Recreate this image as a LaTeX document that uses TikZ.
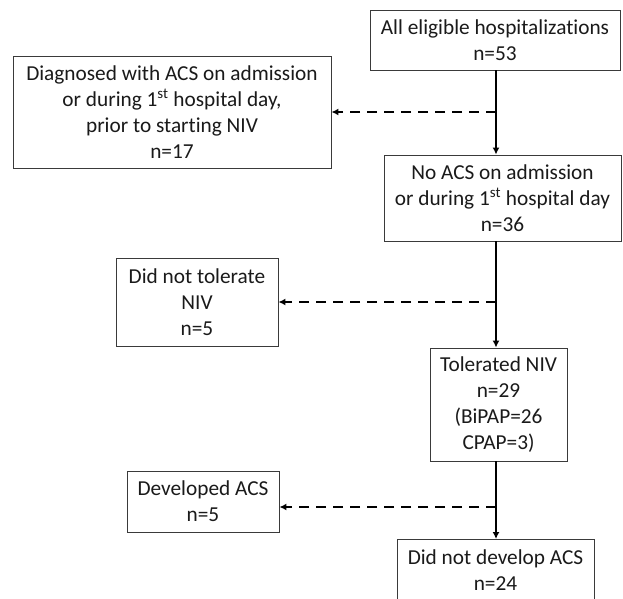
\documentclass[tikz,border=0pt]{standalone}
\usepackage{fontspec}
\setmainfont{Carlito}[RawFeature={-liga,-dlig,-clig}]
\usetikzlibrary{arrows.meta,calc}
\definecolor{boxline}{HTML}{3A3A3A}
\definecolor{txt}{HTML}{1A1A1A}
\tikzset{
  box/.style={draw=boxline, line width=0.9pt, fill=white, align=center, text=txt,
    inner sep=0pt, font=\fontsize{21.3}{26}\selectfont},
  flow/.style={line width=2pt, black, -{Latex[length=7pt,width=7pt]}},
  side/.style={line width=2pt, black, dash pattern=on 10pt off 7pt, -{Latex[length=7pt,width=7pt]}}
}
\begin{document}
\begin{tikzpicture}[x=1pt,y=1pt]
\useasboundingbox (0,0) rectangle (623,-598);
\clip (0,0) rectangle (623,-598);
\node[box, minimum width=250, minimum height=60] (A) at (495,-40) {All eligible hospitalizations\\n=53};
\node[box, minimum width=318, minimum height=112] (C) at (172,-112) {Diagnosed with ACS on admission\\or during 1\textsuperscript{st} hospital day,\\prior to starting NIV\\n=17};
\node[box, minimum width=237, minimum height=86] (B) at (502.5,-198) {No ACS on admission\\or during 1\textsuperscript{st} hospital day\\n=36};
\node[box, minimum width=162, minimum height=88] (D) at (197,-302) {Did not tolerate\\NIV\\n=5};
\node[box, minimum width=137, minimum height=113] (E) at (498.5,-404.5) {Tolerated NIV\\n=29\\(BiPAP=26\\CPAP=3)};
\node[box, minimum width=152, minimum height=61] (F) at (203,-501.5) {Developed ACS\\n=5};
\node[box, minimum width=197, minimum height=62, anchor=north] (G) at (495.5,-539) {Did not develop ACS\\n=24};
\coordinate (tx) at (496,0);
\coordinate (j1) at (496,-112);
\coordinate (j2) at (496,-302);
\coordinate (j3) at (496,-507);
\draw[flow] (A.south -| tx) -- (B.north -| tx);
\draw[side] (j1) -- (C.east |- j1);
\draw[flow] (B.south -| tx) -- (E.north -| tx);
\draw[side] (j2) -- (D.east |- j2);
\draw[flow] (E.south -| tx) -- (G.north -| tx);
\draw[side] (j3) -- (F.east |- j3);
\end{tikzpicture}
\end{document}
